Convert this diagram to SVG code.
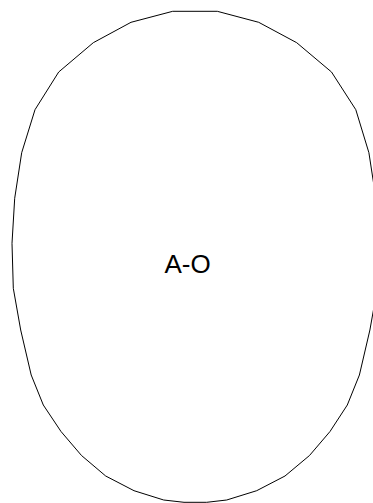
<svg xmlns="http://www.w3.org/2000/svg" width="373" height="503" viewBox="0 0 373 503">
<style>
.node-shape{fill:#ffffff;stroke:#000000;stroke-width:1;}
.label{font-family:"Liberation Sans",Arial,sans-serif;font-size:26px;fill:#000000;text-anchor:middle;}
</style>
<rect width="373" height="503" fill="#ffffff"/>
<g id="node-AO">
<polygon class="node-shape" points="172.7,11.3 217.3,11.3 258.7,22.3 296.7,42.7 331.5,72 355.8,109.7 368.9,152.7 375.9,198.3 378.6,243.3 377.3,288.3 369.9,330 359.4,375 347.3,405 330,431.5 309.5,455.5 285,476 256.7,490.7 226.7,500 206.7,502.3 184,502.3 163.7,500 134,490.7 105.7,476 81.5,455.5 61,431.5 43.3,405 31.2,375 20.7,330 13.3,288.3 12,243.3 14.7,198.3 21.7,152.7 35,109.7 58.7,72 93.3,42.7 131,22.3"/>
<text class="label" x="187.5" y="273">A-O</text>
</g>
<g id="connectors"></g>
</svg>
